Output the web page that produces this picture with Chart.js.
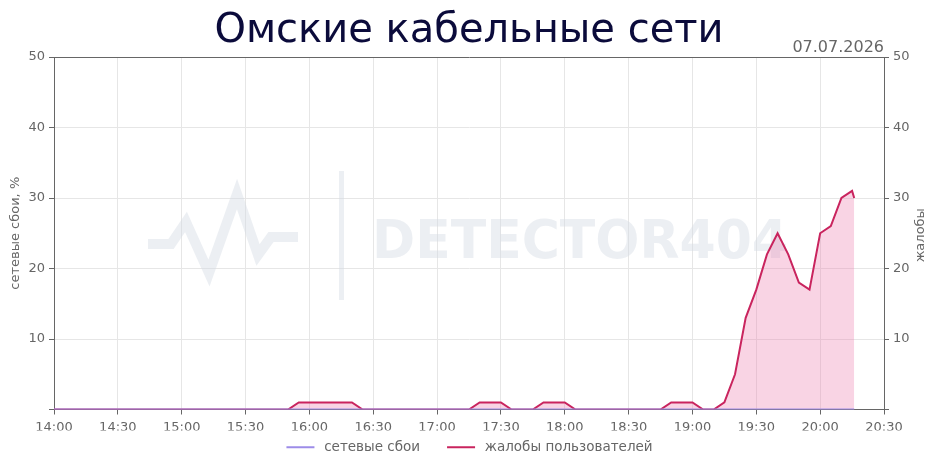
<!DOCTYPE html>
<html>
<head>
<meta charset="utf-8">
<script src="https://cdn.jsdelivr.net/npm/chart.js@4.4.0/dist/chart.umd.min.js"></script>
<style>
  html, body { margin: 0; padding: 0; background: #fff; }
  #wrap { width: 938px; height: 468px; }
</style>
</head>
<body>
<div id="wrap"><canvas id="chart" width="938" height="468"></canvas></div>
<script>
// time of each sample (5 min step)
var times = [
  "14:00","14:05","14:10","14:15","14:20","14:25","14:30","14:35","14:40","14:45","14:50","14:55",
  "15:00","15:05","15:10","15:15","15:20","15:25","15:30","15:35","15:40","15:45","15:50","15:55",
  "16:00","16:05","16:10","16:15","16:20","16:25","16:30","16:35","16:40","16:45","16:50","16:55",
  "17:00","17:05","17:10","17:15","17:20","17:25","17:30","17:35","17:40","17:45","17:50","17:55",
  "18:00","18:05","18:10","18:15","18:20","18:25","18:30","18:35","18:40","18:45","18:50","18:55",
  "19:00","19:05","19:10","19:15","19:20","19:25","19:30","19:35","19:40","19:45","19:50","19:55",
  "20:00","20:05","20:10","20:15","20:16"
];

var failures = [
  0,0,0,0,0,0,0,0,0,0,0,0,
  0,0,0,0,0,0,0,0,0,0,0,0,
  0,0,0,0,0,0,0,0,0,0,0,0,
  0,0,0,0,0,0,0,0,0,0,0,0,
  0,0,0,0,0,0,0,0,0,0,0,0,
  0,0,0,0,0,0,0,0,0,0,0,0,
  0,0,0,0,0
];

var complaints = [
  0,0,0,0,0,0,0,0,0,0,0,0,
  0,0,0,0,0,0,0,0,0,0,0,1,
  1,1,1,1,1,0,0,0,0,0,0,0,
  0,0,0,0,1,1,1,0,0,0,1,1,
  1,0,0,0,0,0,0,0,0,0,1,1,
  1,0,0,1,5,13,17,22,25,22,18,17,
  25,26,30,31,30
];

var xStart = "14:00", xEnd = "20:30";
var yTicks = [10, 20, 30, 40, 50];
var reportDate = "07.07.2026";

function toMin(t) {
    var p = t.split(":");
    return parseInt(p[0]) * 60 + parseInt(p[1]);
}
function fmtMin(m) {
    var h = Math.floor(m / 60), mm = m % 60;
    return (h < 10 ? "0" : "") + h + ":" + (mm < 10 ? "0" : "") + mm;
}
function toPoints(vals) {
    var out = [];
    for (var i = 0; i < times.length; i++) {
        out.push({ x: toMin(times[i]), y: vals[i] });
    }
    return out;
}

var FONT = "'DejaVu Sans', sans-serif";
var GREY = "#666";
var GRID = "#e6e6e6";
var MARK = "rgba(212,220,228,0.45)";

// legend swatch: short line with some empty room on the left
function swatch(color) {
    var c = document.createElement("canvas");
    c.width = 48;
    c.height = 4;
    var g = c.getContext("2d");
    g.fillStyle = color;
    g.fillRect(17, 1, 28, 2);
    return c;
}

// watermark behind the data, date and right axis title on top
var decor = {
    id: "decor",
    afterLayout: function (chart) {
        // the first swatch has empty room on its left, pull the legend back
        chart.legend.left -= 8;
        chart.legend.right -= 8;
    },
    beforeDatasetsDraw: function (chart) {
        var ctx = chart.ctx;
        ctx.save();
        ctx.strokeStyle = MARK;
        ctx.lineWidth = 10;
        ctx.lineJoin = "miter";
        ctx.beginPath();
        ctx.moveTo(148, 244);
        ctx.lineTo(171, 244);
        ctx.lineTo(186, 222);
        ctx.lineTo(209, 273);
        ctx.lineTo(237, 194);
        ctx.lineTo(258, 255);
        ctx.lineTo(271, 237);
        ctx.lineTo(298, 237);
        ctx.stroke();
        ctx.fillStyle = MARK;
        ctx.fillRect(339, 171, 5, 129);
        ctx.font = "bold 54px " + FONT;
        ctx.textBaseline = "alphabetic";
        ctx.textAlign = "left";
        ctx.fillText("DETECTOR404", 372, 258, 416);
        ctx.restore();
    },
    afterDraw: function (chart) {
        var ctx = chart.ctx;
        var area = chart.chartArea;
        ctx.save();
        ctx.font = "16px " + FONT;
        ctx.fillStyle = GREY;
        ctx.textAlign = "right";
        ctx.textBaseline = "middle";
        ctx.fillText(reportDate, area.right, 48);
        ctx.font = "13px " + FONT;
        ctx.textAlign = "center";
        ctx.translate(921, (area.top + area.bottom) / 2 + 2);
        ctx.rotate(-Math.PI / 2);
        ctx.fillText("жалобы", 0, 0);
        ctx.restore();
    }
};

new Chart(document.getElementById("chart"), {
    type: "line",
    data: {
        datasets: [{
            label: "сетевые сбои",
            data: toPoints(failures),
            yAxisID: "y",
            borderColor: "#9d8ce8",
            backgroundColor: "#9d8ce8",
            borderWidth: 2,
            pointRadius: 0,
            pointStyle: swatch("#9d8ce8"),
            fill: false,
            order: 0
        }, {
            label: "жалобы пользователей",
            data: toPoints(complaints),
            yAxisID: "y1",
            borderColor: "#c9245e",
            backgroundColor: "rgba(236,120,170,0.32)",
            borderWidth: 2,
            pointRadius: 0,
            pointStyle: swatch("#c9245e"),
            tension: 0,
            fill: "origin",
            order: 1
        }]
    },
    options: {
        responsive: false,
        animation: false,
        layout: { padding: { left: 0, right: 0, top: 0, bottom: 4 } },
        plugins: {
            title: {
                display: true,
                text: "Омские кабельные сети",
                color: "#0b0b3b",
                font: { family: FONT, size: 40, weight: "normal", lineHeight: 1.2 },
                padding: { top: 8, bottom: 1 }
            },
            legend: {
                position: "bottom",
                labels: {
                    usePointStyle: true,
                    pointStyleWidth: 48,
                    color: GREY,
                    padding: 10,
                    font: { family: FONT, size: 13.5 }
                }
            },
            tooltip: { enabled: false }
        },
        scales: {
            x: {
                type: "linear",
                min: toMin(xStart),
                max: toMin(xEnd),
                ticks: {
                    stepSize: 30,
                    color: GREY,
                    font: { family: FONT, size: 13 },
                    padding: 5,
                    maxRotation: 0,
                    callback: function (v) { return fmtMin(v); }
                },
                grid: { color: GRID, tickColor: GREY, tickLength: 5 },
                border: { color: GREY },
                afterFit: function (s) { s.height = 21; }
            },
            y: {
                position: "left",
                min: 0,
                max: 50,
                afterBuildTicks: function (s) {
                    s.ticks = [{ value: 0 }].concat(yTicks.map(function (v) { return { value: v }; }));
                },
                ticks: {
                    color: GREY,
                    font: { family: FONT, size: 13 },
                    padding: 4,
                    callback: function (v) { return v === 0 ? "" : v; }
                },
                grid: {
                    color: function (c) { return c.tick && c.tick.value === 50 ? GREY : GRID; },
                    tickColor: GREY,
                    tickLength: 5
                },
                border: { color: GREY },
                title: {
                    display: true,
                    text: "сетевые сбои, %",
                    color: GREY,
                    font: { family: FONT, size: 13 },
                    padding: { top: 8, bottom: 0 }
                },
                afterFit: function (s) { s.width = 54; }
            },
            y1: {
                position: "right",
                min: 0,
                max: 50,
                afterBuildTicks: function (s) {
                    s.ticks = [{ value: 0 }].concat(yTicks.map(function (v) { return { value: v }; }));
                },
                ticks: {
                    color: GREY,
                    font: { family: FONT, size: 13 },
                    padding: 4,
                    callback: function (v) { return v === 0 ? "" : v; }
                },
                grid: { drawOnChartArea: false, tickColor: GREY, tickLength: 5 },
                border: { color: GREY },
                afterFit: function (s) { s.width = 54; }
            }
        }
    },
    plugins: [decor]
});
</script>
</body>
</html>
